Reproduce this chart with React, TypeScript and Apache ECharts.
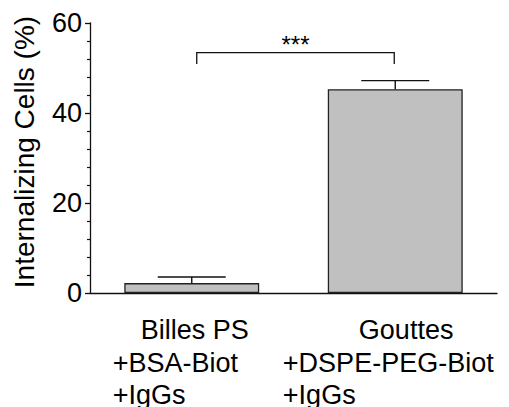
import React, { useEffect, useRef } from "react";
import * as echarts from "echarts";

const categories = ["Billes PS\n+BSA-Biot\n+IgGs", "Gouttes\n+DSPE-PEG-Biot\n+IgGs"];
const means = [2.2, 45.3];
const upperErrors = [3.55, 47.2];
const yAxisName = "Internalizing Cells (%)";
const yTicks = { min: 0, max: 60, interval: 20 };
const bracket = [0, 1, 53.4, 50.9];
const significance = "***";

const FONT = "'Liberation Sans', Arial, sans-serif";
const LABEL_SIZE = 27;
// label layout (pixels): [first-line indent, first-line trailing, second-line trailing]
const labelLayout = [
  [28, 22, 0],
  [76, 0, 14],
];

export default function App() {
  const ref = useRef<HTMLDivElement>(null);
  useEffect(() => {
    if (!ref.current) return;
    const chart = echarts.init(ref.current, undefined, { renderer: "svg" });
    const base = { align: "left", fontSize: LABEL_SIZE, fontFamily: FONT, color: "#000", lineHeight: 32.4 };
    const rich: any = { l: { ...base } };
    labelLayout.forEach((lay, i) => {
      rich["a" + i] = { ...base, width: lay[0] };
      rich["b" + i] = { ...base, width: lay[1] };
      rich["c" + i] = { ...base, width: lay[2] };
    });
    chart.setOption({
      animation: false,
      grid: { left: 90, right: 12, top: 23, bottom: 114, containLabel: false, outerBoundsMode: "none" },
      xAxis: {
        type: "category",
        data: categories,
        axisLine: { lineStyle: { color: "#111", width: 1.3 } },
        axisTick: { alignWithLabel: true, length: 7, lineStyle: { color: "#111", width: 1.3 } },
        axisLabel: {
          interval: 0,
          margin: 21,
          formatter: (value: string, index: number) => {
            const lines = value.split("\n");
            const i = index;
            const parts = lines.map((ln, k) => {
              let s = "";
              if (k === 0 && labelLayout[i][0] > 0) s += `{a${i}| }`;
              s += `{l|${ln}}`;
              if (k === 0 && labelLayout[i][1] > 0) s += `{b${i}| }`;
              if (k === 1 && labelLayout[i][2] > 0) s += `{c${i}| }`;
              return s;
            });
            return parts.join("\n");
          },
          rich,
        },
      },
      yAxis: {
        type: "value",
        min: yTicks.min,
        max: yTicks.max,
        interval: yTicks.interval,
        name: yAxisName,
        nameLocation: "middle",
        nameGap: 52,
        nameTextStyle: { fontSize: 28, fontFamily: FONT, color: "#000", padding: [0, 0, 0, 12] },
        splitLine: { show: false },
        axisLine: { show: true, lineStyle: { color: "#111", width: 1.3 } },
        axisTick: { show: true, length: 5, lineStyle: { color: "#111", width: 1.3 } },
        minorTick: { show: true, splitNumber: 5, length: 3, lineStyle: { color: "#111", width: 1.2 } },
        axisLabel: { fontSize: 27, fontFamily: FONT, color: "#000", margin: 8 },
      },
      series: [
        {
          type: "bar",
          data: means,
          barWidth: "66.3%",
          itemStyle: { color: "#c0c0c0", borderColor: "#222", borderWidth: 1.3 },
          z: 2,
        },
        {
          type: "custom",
          z: 3,
          data: means.map((m, i) => [i, m, upperErrors[i]]),
          encode: { x: 0, y: [1, 2] },
          renderItem: (params: any, api: any) => {
            const x = api.value(0);
            const p0 = api.coord([x, api.value(1)]);
            const p1 = api.coord([x, api.value(2)]);
            const half = api.size([1, 0])[0] * 0.167;
            const style = { stroke: "#111", lineWidth: 1.4 };
            return {
              type: "group",
              children: [
                { type: "line", shape: { x1: p0[0], y1: p0[1], x2: p1[0], y2: p1[1] }, style },
                { type: "line", shape: { x1: p1[0] - half, y1: p1[1], x2: p1[0] + half, y2: p1[1] }, style },
              ],
            };
          },
        },
        {
          type: "custom",
          z: 3,
          data: [bracket],
          encode: { x: [0, 1], y: [2, 3] },
          renderItem: (params: any, api: any) => {
            const a = api.coord([api.value(0), api.value(2)]);
            const b = api.coord([api.value(1), api.value(2)]);
            const d = api.coord([api.value(0), api.value(3)]);
            const xl = a[0] + 5;
            const xr = b[0] - 1;
            return {
              type: "group",
              children: [
                {
                  type: "polyline",
                  shape: { points: [[xl, d[1]], [xl, a[1]], [xr, a[1]], [xr, d[1]]] },
                  style: { stroke: "#111", lineWidth: 1.3, fill: null },
                },
                {
                  type: "text",
                  style: {
                    text: significance,
                    x: (xl + xr) / 2,
                    y: a[1] - 8,
                    align: "center",
                    verticalAlign: "middle",
                    fontSize: 24,
                    fontFamily: FONT,
                    fill: "#000",
                  },
                },
              ],
            };
          },
        },
      ],
    });
    return () => chart.dispose();
  }, []);
  return (
    <div
      ref={ref}
      style={{ position: "fixed", left: 0, top: 0, width: 509, height: 407, background: "#fff" }}
    />
  );
}
